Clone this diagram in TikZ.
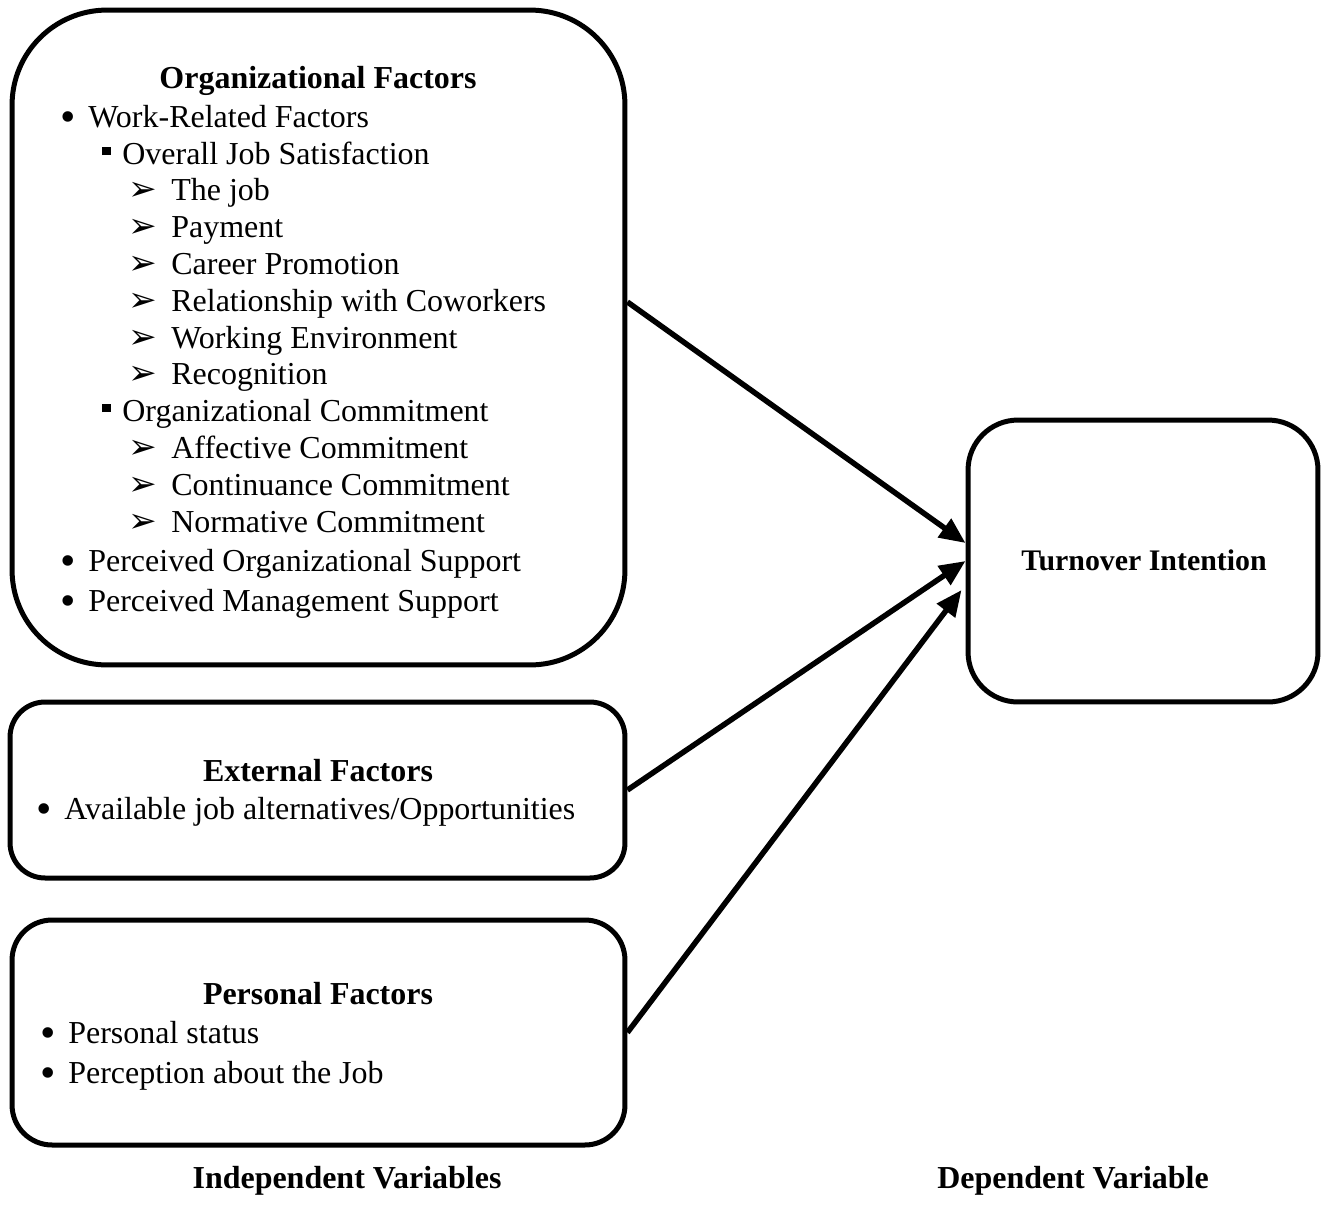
\documentclass[tikz,border=0pt]{standalone}
\usepackage{fontspec}
\setmainfont{Liberation Serif}
\newfontfamily\symfont{DejaVu Sans}
\usetikzlibrary{arrows.meta}

% list markers, hung left of the text start
\newcommand{\bul}{\llap{\raisebox{-0.09cm}{\fontsize{25}{25}\selectfont\textbullet}\hspace{0.25cm}}}
\newcommand{\sqb}{\llap{\raisebox{0.18cm}{\rule{0.17cm}{0.17cm}}\hspace{0.23cm}}}
\newcommand{\arr}{\llap{{\symfont\fontsize{19.5}{19.5}\selectfont ➢}\hspace{0.28cm}}}

\begin{document}
\begin{tikzpicture}[x=0.02cm, y=-0.02cm, >={Triangle[length=0.52cm,width=0.44cm]},
    font=\fontsize{18.2}{22}\selectfont,
    box/.style={draw, line width=0.1cm, inner sep=0pt},
    txt/.style={anchor=base west, inner sep=0pt},
    head/.style={anchor=base, inner sep=0pt, font=\fontsize{18.2}{22}\selectfont\bfseries},
    link/.style={->, line width=0.11cm}]

  \useasboundingbox (0,0) rectangle (1327,1221);

  % Boxes
  \node[box, rounded corners=1.9cm, minimum width=12.26cm, minimum height=13.1cm] (org) at (318.5,337.5) {};
  \node[box, rounded corners=0.7cm, minimum width=12.3cm, minimum height=3.52cm] (ext) at (317.5,790) {};
  \node[box, rounded corners=0.8cm, minimum width=12.26cm, minimum height=4.5cm] (per) at (318.5,1032.5) {};
  \node[box, rounded corners=1cm, minimum width=7cm, minimum height=5.64cm] (tur) at (1143,561) {};

  % Organizational factors
  \node[head] (orgT) at (318,88) {Organizational Factors};
  \foreach \x/\y/\t [count=\i] in {
      88/127/{\bul Work-Related Factors},
      122/164/{\sqb Overall Job Satisfaction},
      171/200/{\arr The job},
      171/237/{\arr Payment},
      171/274/{\arr Career Promotion},
      171/311/{\arr Relationship with Coworkers},
      171/348/{\arr Working Environment},
      171/384/{\arr Recognition},
      122/421/{\sqb Organizational Commitment},
      171/458/{\arr Affective Commitment},
      171/495/{\arr Continuance Commitment},
      171/532/{\arr Normative Commitment},
      88/571/{\bul Perceived Organizational Support},
      88/611/{\bul Perceived Management Support}}
    \node[txt] (org\i) at (\x,\y) {\t};

  % External factors
  \node[head] (extT) at (318,781) {External Factors};
  \node[txt] (ext1) at (64,819) {\bul Available job alternatives/Opportunities};

  % Personal factors
  \node[head] (perT) at (318,1004) {Personal Factors};
  \node[txt] (per1) at (68,1043) {\bul Personal status};
  \node[txt] (per2) at (68,1083) {\bul Perception about the Job};

  % Dependent variable
  \node[head, font=\fontsize{17}{20}\selectfont\bfseries] (turT) at (1144,570) {Turnover Intention};

  % Captions
  \node[head] (indep) at (347,1188) {Independent Variables};
  \node[head] (dep) at (1073,1188) {Dependent Variable};

  % Links
  \draw[link] ([yshift=0.71cm]org.east) -- ([yshift=0.36cm]tur.west);
  \draw[link] (ext.east) -- (tur.west);
  \draw[link] (per.east) -- ([xshift=-0.08cm,yshift=-0.58cm]tur.west);

\end{tikzpicture}
\end{document}
